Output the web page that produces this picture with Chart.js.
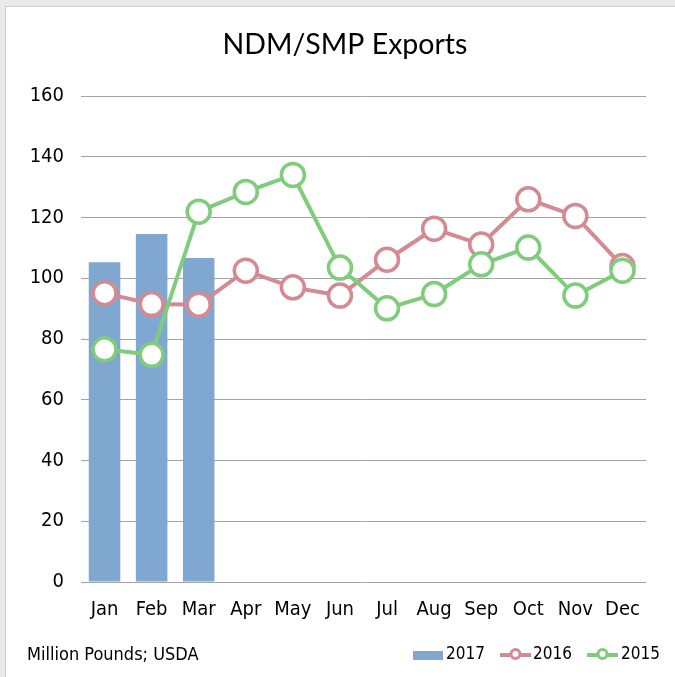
<!DOCTYPE html>
<html>
<head>
<meta charset="utf-8">
<script src="https://cdn.jsdelivr.net/npm/chart.js@4.4.1/dist/chart.umd.min.js"></script>
<style>
  html, body { margin: 0; padding: 0; background: #e9e9e9; }
  #frame { position: absolute; left: 5px; top: 6px; width: 670px; height: 671px; background: #ffffff; border-left: 1px solid #cdcdcd; border-top: 1px solid #cdcdcd; }
  #wrap { position: absolute; left: 0; top: 0; width: 675px; height: 677px; }
</style>
</head>
<body>
<div id="frame"></div>
<div id="wrap"><canvas id="c" width="675" height="677"></canvas></div>
<script>
const months = ["Jan","Feb","Mar","Apr","May","Jun","Jul","Aug","Sep","Oct","Nov","Dec"];
const exports2017 = [105.3, 114.6, 106.7, null, null, null, null, null, null, null, null, null];
const exports2016 = [95.1, 91.5, 91.3, 102.5, 97.0, 94.3, 106.1, 116.3, 111.1, 126.0, 120.5, 104.0];
const exports2015 = [76.6, 74.8, 121.9, 128.4, 134.0, 103.5, 90.1, 94.8, 104.6, 110.1, 94.3, 102.5];
const yTicks = [0, 20, 40, 60, 80, 100, 120, 140, 160];
const titleText = "NDM/SMP Exports";
const footnote = "Million Pounds; USDA";

const condensed = "'DejaVu Sans Condensed', 'DejaVu Sans', sans-serif";
const tickFont = { family: condensed, size: 20 };

const textPlugin = {
  id: 'customText',
  afterDraw(chart) {
    const ctx = chart.ctx;
    const ds = chart.data.datasets;
    ctx.save();
    // title
    ctx.fillStyle = '#000';
    ctx.textBaseline = 'middle';
    ctx.textAlign = 'center';
    ctx.font = "28.5px Lato, 'Open Sans', sans-serif";
    ctx.fillText(titleText, 345, 45);
    // footnote
    ctx.textAlign = 'left';
    ctx.font = "18px " + condensed;
    ctx.fillText(footnote, 27, 655);
    // legend
    const y = 655;
    ctx.fillStyle = ds[0].backgroundColor;
    ctx.fillRect(413, y - 4, 30, 9);
    ctx.fillStyle = '#000';
    ctx.font = "17px " + condensed;
    ctx.fillText(ds[0].label, 446, y);
    const lineItems = [[ds[1], 500, 533], [ds[2], 587, 621]];
    for (const [d, x0, tx] of lineItems) {
      ctx.strokeStyle = d.borderColor;
      ctx.lineWidth = 4;
      ctx.beginPath();
      ctx.moveTo(x0, y); ctx.lineTo(x0 + 31, y); ctx.stroke();
      ctx.beginPath();
      ctx.arc(x0 + 15.5, y - 1, 4.5, 0, Math.PI * 2);
      ctx.fillStyle = '#fff';
      ctx.fill();
      ctx.lineWidth = 3;
      ctx.stroke();
      ctx.fillStyle = '#000';
      ctx.fillText(d.label, tx, y);
    }
    ctx.restore();
  }
};

new Chart(document.getElementById('c'), {
  type: 'bar',
  data: {
    labels: months,
    datasets: [
      { type: 'bar', label: '2017', data: exports2017, backgroundColor: '#7fa7cf', order: 3,
        categoryPercentage: 1.0, barPercentage: 0.67 },
      { type: 'line', label: '2016', data: exports2016, borderColor: '#d48a93', backgroundColor: '#ffffff',
        borderWidth: 4, pointRadius: 11.5, pointHoverRadius: 11.5, pointBorderWidth: 3.5,
        pointBackgroundColor: '#ffffff', pointBorderColor: '#d48a93', tension: 0, order: 2 },
      { type: 'line', label: '2015', data: exports2015, borderColor: '#7fcc7c', backgroundColor: '#ffffff',
        borderWidth: 4, pointRadius: 11.5, pointHoverRadius: 11.5, pointBorderWidth: 3.5,
        pointBackgroundColor: '#ffffff', pointBorderColor: '#7fcc7c', tension: 0, order: 1 }
    ]
  },
  options: {
    responsive: false,
    animation: false,
    layout: { padding: { left: 7, right: 29, top: 96, bottom: 45 } },
    plugins: {
      legend: { display: false },
      tooltip: { enabled: false },
      title: { display: false }
    },
    scales: {
      x: {
        grid: { display: false, drawTicks: false },
        border: { display: false },
        ticks: { color: '#000', font: tickFont, padding: 16, maxRotation: 0 },
        afterFit: (s) => { s.height = 50; }
      },
      y: {
        min: 0, max: 160,
        afterBuildTicks: (s) => { s.ticks = yTicks.map(v => ({ value: v })); },
        grid: { color: '#a3a3a3', lineWidth: 1, drawTicks: false },
        border: { display: false },
        ticks: { color: '#000', font: tickFont, padding: 17 },
        afterFit: (s) => { s.width = 74; }
      }
    }
  },
  plugins: [textPlugin]
});
</script>
</body>
</html>
